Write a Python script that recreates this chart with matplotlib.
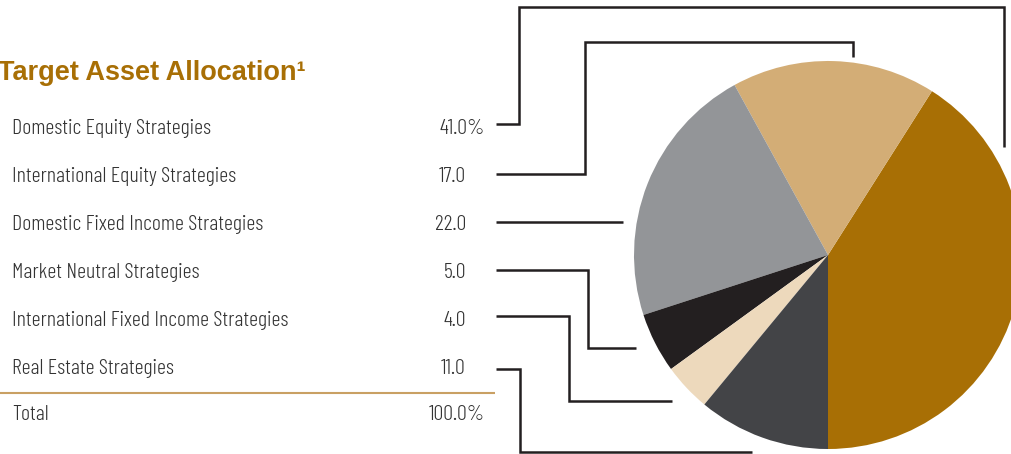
import matplotlib.pyplot as plt

categories = [
    "Domestic Equity Strategies",
    "International Equity Strategies",
    "Domestic Fixed Income Strategies",
    "Market Neutral Strategies",
    "International Fixed Income Strategies",
    "Real Estate Strategies",
]
values = [41.0, 17.0, 22.0, 5.0, 4.0, 11.0]
colors = ["#A86F05", "#D3AD76", "#939598", "#231F20", "#EDD9BC", "#434447"]
total_label = "Total"

W, H = 1012, 454
GOLD = "#A86F05"
LABEL_FONT = ["Barlow Condensed", "DejaVu Sans"]
LABEL_KW = dict(fontsize=15.9, color="#333333", family=LABEL_FONT,
                fontweight=300, va="center")

fig = plt.figure(figsize=(W / 100, H / 100), dpi=100)
ax = fig.add_axes([0, 0, 1, 1])


def py(y):
    # picture rows run top-down, axes run bottom-up
    return H - y


ax.pie(values, colors=colors, startangle=-90, counterclock=True,
       center=(828, py(255)), radius=194, wedgeprops={"linewidth": 0})

ax.text(-2, py(73), "Target Asset Allocation\u00b9", color=GOLD, fontsize=19.5,
        fontweight="bold", family=["Liberation Sans", "DejaVu Sans"],
        ha="left", va="center")

row_y = [129, 177, 224, 272, 320, 368]
for i, (name, v) in enumerate(zip(categories, values)):
    ax.text(12, py(row_y[i]), name, ha="left", **LABEL_KW)
    if i == 0:
        ax.text(485, py(row_y[i]), f"{v:.1f}%", ha="right", **LABEL_KW)
    else:
        ax.text(466, py(row_y[i]), f"{v:.1f}", ha="right", **LABEL_KW)

ax.plot([0, 495], [py(393), py(393)], color="#C9A063", lw=1.5,
        solid_capstyle="butt")
ax.text(12, py(415), total_label, ha="left", **LABEL_KW)
ax.text(485, py(415), f"{sum(values):.1f}%", ha="right", **LABEL_KW)

# leader lines from the table to the wedges
leaders = [
    [(496, 124), (519, 124), (519, 7), (1004, 7), (1004, 147)],
    [(496, 174), (585, 174), (585, 42), (853, 42), (853, 57)],
    [(496, 222), (623, 222)],
    [(496, 270), (588, 270), (588, 348), (636, 348)],
    [(496, 316), (569, 316), (569, 401), (672, 401)],
    [(496, 369), (520, 369), (520, 452), (752, 452)],
]
for pts in leaders:
    xs = [p[0] for p in pts]
    ys = [py(p[1]) for p in pts]
    ax.plot(xs, ys, color="#231F20", lw=1.8, solid_joinstyle="miter",
            solid_capstyle="butt")

ax.set_xlim(0, W)
ax.set_ylim(0, H)
ax.set_aspect("auto")
ax.axis("off")

fig.savefig("out.png", dpi=100)
